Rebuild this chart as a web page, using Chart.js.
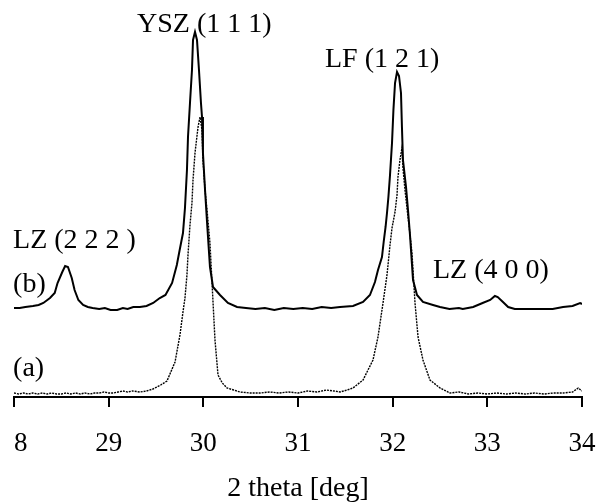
<!DOCTYPE html>
<html>
<head>
<meta charset="utf-8">
<script src="https://cdn.jsdelivr.net/npm/chart.js@4.4.1/dist/chart.umd.min.js"></script>
<style>
  html, body { margin: 0; padding: 0; background: #fff; }
  #wrap { width: 597px; height: 503px; }
</style>
</head>
<body>
<div id="wrap"><canvas id="myChart" width="597" height="503"></canvas></div>
<script>
// x axis ticks (2 theta, deg)
var tickValues = [28, 29, 30, 31, 32, 33, 34];

// curve (b) - upper trace
var thetaB = [28.00, 28.06, 28.12, 28.20, 28.26, 28.31, 28.38, 28.43, 28.46, 28.51, 28.54, 28.57, 28.61, 28.64, 28.68, 28.73, 28.78, 28.83, 28.90, 28.96,
  29.02, 29.09, 29.15, 29.20, 29.26, 29.33, 29.40, 29.47, 29.54, 29.60, 29.67, 29.72, 29.75, 29.785, 29.806, 29.827, 29.838, 29.859, 29.880, 29.891,
  29.912, 29.933, 29.954, 29.975, 29.986, 29.996, 30.018, 30.039, 30.070, 30.102, 30.176, 30.260, 30.356, 30.45, 30.55, 30.65, 30.75, 30.85, 30.95, 31.05,
  31.15, 31.25, 31.35, 31.444, 31.581, 31.687, 31.760, 31.813, 31.845, 31.887, 31.905, 31.925, 31.940, 31.955, 31.972, 31.993, 32.008, 32.025, 32.046, 32.067,
  32.088, 32.098, 32.109, 32.141, 32.162, 32.183, 32.215, 32.257, 32.320, 32.426, 32.50, 32.60, 32.70, 32.74, 32.85, 32.95, 33.03, 33.08, 33.11, 33.165,
  33.22, 33.29, 33.45, 33.60, 33.69, 33.80, 33.90, 33.98, 34.00];
var intensityB = [89, 89, 90, 91, 92, 94, 99, 104, 114, 125, 131, 130, 119, 107, 97, 92, 90, 89, 88, 89,
  87, 87, 89, 88, 90, 90, 91, 94, 99, 102, 114, 132, 147, 164, 189, 227, 260, 294, 327, 357,
  365, 357, 327, 294, 280, 244, 207, 175, 130, 110, 102, 94, 90, 89, 88, 89, 87, 89, 88, 89,
  88, 90, 89, 90, 91, 95, 102, 115, 127, 140, 155, 170, 184, 200, 222, 254, 287, 314, 325, 321,
  304, 270, 237, 210, 187, 162, 117, 102, 95, 92, 90, 88, 89, 88, 90, 94, 97, 101, 100, 95,
  90, 88, 88, 88, 88, 90, 91, 94, 93];

// curve (a) - lower trace
var thetaA = [28.00, 28.05, 28.10, 28.15, 28.20, 28.25, 28.30, 28.35, 28.40, 28.45, 28.50, 28.55, 28.60, 28.65, 28.70, 28.75, 28.80, 28.85, 28.90, 28.95,
  29.00, 29.05, 29.10, 29.15, 29.20, 29.25, 29.331, 29.40, 29.468, 29.55, 29.616, 29.701, 29.753, 29.785, 29.806, 29.827, 29.838, 29.859, 29.880, 29.891,
  29.912, 29.944, 29.965, 29.986, 29.996, 30.018, 30.039, 30.070, 30.092, 30.123, 30.155, 30.20, 30.250, 30.320, 30.387, 30.493, 30.60, 30.70, 30.80, 30.90,
  31.00, 31.10, 31.20, 31.30, 31.38, 31.444, 31.52, 31.581, 31.687, 31.792, 31.845, 31.898, 31.940, 31.972, 31.993, 32.025, 32.046, 32.056, 32.077, 32.098,
  32.109, 32.130, 32.151, 32.172, 32.204, 32.236, 32.268, 32.320, 32.394, 32.500, 32.606, 32.70, 32.80, 32.90, 33.00, 33.10, 33.20, 33.30, 33.40, 33.50,
  33.60, 33.70, 33.80, 33.90, 33.96, 34.00];
var intensityA = [4, 3, 4, 3, 4, 3, 4, 3, 4, 3, 3, 4, 3, 4, 3, 4, 3, 4, 4, 5,
  4, 4, 5, 6, 5, 6, 5, 6, 8, 12, 16, 35, 62, 85, 99, 122, 142, 172, 194, 217,
  244, 270, 280, 267, 237, 207, 187, 154, 114, 57, 22, 14, 9, 7, 5, 4, 4, 5, 4, 5,
  4, 6, 5, 7, 6, 5, 7, 9, 17, 37, 60, 94, 122, 152, 169, 185, 202, 220, 237, 249,
  229, 207, 189, 172, 144, 94, 60, 37, 17, 9, 4, 5, 3, 4, 3, 4, 3, 4, 3, 4,
  3, 4, 4, 5, 9, 6];

// peak and trace labels
var labelTexts = ["YSZ (1 1 1)", "LF (1 2 1)", "LZ (2 2 2 )", "(b)", "LZ (4 0 0)", "(a)"];
// anchor of each label (left, baseline) in axis units
var labelAnchors = [[29.30, 365], [31.285, 330], [27.99, 149], [27.99, 105], [32.426, 119], [27.99, 21]];

function toPoints(xs, ys) {
    var pts = [];
    for (var i = 0; i < xs.length; i++) {
        pts.push({x: xs[i], y: ys[i]});
    }
    return pts;
}

var serif = "'Liberation Serif', 'Times New Roman', serif";

// hide the cut-off "2" of the first tick label, like the cropped original
var clipPlugin = {
    id: 'leftClip',
    beforeDraw: function(chart) {
        var ctx = chart.ctx;
        ctx.save();
        ctx.beginPath();
        ctx.rect(0, 0, chart.width, 410);
        ctx.rect(chart.chartArea.left, 410, chart.width, chart.height - 410);
        ctx.clip();
    },
    afterDraw: function(chart) {
        chart.ctx.restore();
    }
};

var labelPlugin = {
    id: 'peakLabels',
    afterDatasetsDraw: function(chart) {
        var ctx = chart.ctx;
        var xs = chart.scales.x, ys = chart.scales.y;
        ctx.save();
        ctx.fillStyle = '#000';
        ctx.font = "28px " + serif;
        ctx.textAlign = 'left';
        ctx.textBaseline = 'alphabetic';
        for (var i = 0; i < labelTexts.length; i++) {
            ctx.fillText(labelTexts[i], xs.getPixelForValue(labelAnchors[i][0]), ys.getPixelForValue(labelAnchors[i][1]));
        }
        ctx.restore();
    }
};

var ctx = document.getElementById("myChart");
var myChart = new Chart(ctx, {
    type: 'line',
    data: {
        datasets: [
            {
                label: '(b)',
                data: toPoints(thetaB, intensityB),
                borderColor: '#000',
                borderWidth: 2,
                pointRadius: 0,
                tension: 0,
                fill: false
            },
            {
                label: '(a)',
                data: toPoints(thetaA, intensityA),
                borderColor: '#000',
                borderWidth: 1.4,
                borderDash: [2, 1],
                pointRadius: 0,
                tension: 0,
                fill: false
            }
        ]
    },
    options: {
        responsive: false,
        animation: false,
        layout: {padding: {left: 14, right: 15, top: 0, bottom: 0}},
        plugins: {
            legend: {display: false},
            tooltip: {enabled: false}
        },
        scales: {
            x: {
                type: 'linear',
                min: 28,
                max: 34,
                afterBuildTicks: function(scale) {
                    scale.ticks = tickValues.map(function(v) { return {value: v}; });
                },
                afterFit: function(scale) {
                    scale.height = 106;
                    scale.paddingLeft = 0;
                    scale.paddingRight = 0;
                },
                border: {display: true, color: '#000', width: 2},
                grid: {display: true, drawOnChartArea: false, drawTicks: true, tickLength: 10, color: '#000', lineWidth: 2},
                ticks: {
                    color: '#000',
                    font: {family: serif, size: 27},
                    padding: 21,
                    maxRotation: 0,
                    autoSkip: false
                },
                title: {
                    display: true,
                    text: '2 theta [deg]',
                    color: '#000',
                    font: {family: serif, size: 28, lineHeight: 1},
                    padding: {top: 0, bottom: 0}
                }
            },
            y: {
                display: false,
                min: 0,
                max: 397
            }
        }
    },
    plugins: [clipPlugin, labelPlugin]
});
</script>
</body>
</html>
